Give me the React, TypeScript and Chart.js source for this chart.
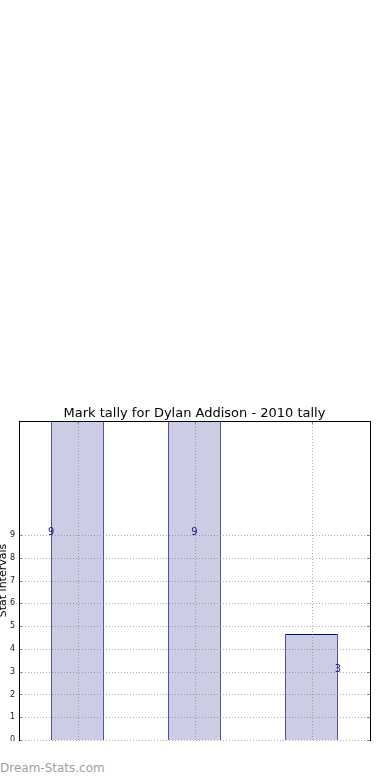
import React, { useEffect, useRef } from "react";
import { Chart, registerables } from "chart.js";

Chart.register(...registerables);

const TITLE = "Mark tally for Dylan Addison - 2010 tally";
const Y_TITLE = "Stat intervals";
const categories = ["A", "B", "C"];
const barValues = [15, 15, 4.65];
const labelValues = [9, 9, 3];
const labelTexts = ["9", "9", "3"];
const labelOffsets = [-0.225, 0, 0.225];
const yTicks = [0, 1, 2, 3, 4, 5, 6, 7, 8, 9];
const Y_MAX = 14;

const FONT = "'DejaVu Sans', sans-serif";

const overlayPlugin = {
  id: "overlay",
  afterDatasetsDraw(chart: any) {
    const { ctx, chartArea: a, scales } = chart;
    const x = scales.x;
    const y = scales.y;
    ctx.save();
    ctx.strokeStyle = "rgba(120,120,120,0.6)";
    ctx.lineWidth = 1;
    ctx.setLineDash([1, 2]);
    yTicks.forEach((v) => {
      const py = Math.round(y.getPixelForValue(v)) + 0.5;
      ctx.beginPath();
      ctx.moveTo(a.left, py);
      ctx.lineTo(a.right, py);
      ctx.stroke();
    });
    categories.forEach((_, i) => {
      const px = Math.round(x.getPixelForValue(i)) + 0.5;
      ctx.beginPath();
      ctx.moveTo(px, a.top);
      ctx.lineTo(px, a.bottom);
      ctx.stroke();
    });
    ctx.setLineDash([]);
    // tick marks inside
    ctx.strokeStyle = "#888";
    yTicks.forEach((v) => {
      const py = Math.round(y.getPixelForValue(v)) + 0.5;
      ctx.beginPath();
      ctx.moveTo(a.left, py);
      ctx.lineTo(a.left + 3, py);
      ctx.moveTo(a.right - 3, py);
      ctx.lineTo(a.right, py);
      ctx.stroke();
    });
    categories.forEach((_, i) => {
      const px = Math.round(x.getPixelForValue(i)) + 0.5;
      ctx.beginPath();
      ctx.moveTo(px, a.top);
      ctx.lineTo(px, a.top + 3);
      ctx.stroke();
    });
    // border
    ctx.strokeStyle = "#000";
    ctx.lineWidth = 1;
    ctx.strokeRect(Math.round(a.left) + 0.5, Math.round(a.top) + 0.5, Math.round(a.right - a.left), Math.round(a.bottom - a.top) + 2);
    // y tick labels
    ctx.fillStyle = "#222";
    ctx.font = `8px ${FONT}`;
    ctx.textAlign = "right";
    ctx.textBaseline = "middle";
    yTicks.forEach((v) => {
      ctx.fillText(String(v), a.left - 4, y.getPixelForValue(v));
    });
    // data labels
    ctx.fillStyle = "#1a1a80";
    ctx.font = `10px ${FONT}`;
    ctx.textAlign = "center";
    ctx.textBaseline = "alphabetic";
    labelValues.forEach((v, i) => {
      const px = x.getPixelForValue(i + labelOffsets[i]);
      const py = y.getPixelForValue(v);
      ctx.fillText(labelTexts[i], px, py);
    });
    // title
    ctx.fillStyle = "#000";
    ctx.font = `13px ${FONT}`;
    ctx.textBaseline = "alphabetic";
    ctx.fillText(TITLE, (a.left + a.right) / 2, a.top - 4);
    // y title
    ctx.save();
    ctx.translate(3, (a.top + a.bottom) / 2);
    ctx.rotate(-Math.PI / 2);
    ctx.font = `11px ${FONT}`;
    ctx.textAlign = "center";
    ctx.textBaseline = "middle";
    ctx.fillText(Y_TITLE, 0, 0);
    ctx.restore();
    ctx.restore();
  },
};

export default function App() {
  const ref = useRef<HTMLCanvasElement>(null);
  useEffect(() => {
    const chart = new Chart(ref.current!, {
      type: "bar",
      data: {
        labels: categories,
        datasets: [
          {
            data: barValues,
            backgroundColor: "rgb(204,204,229)",
            borderColor: "#000080",
            borderWidth: 1,
            barPercentage: 0.45,
            categoryPercentage: 1,
          },
        ],
      },
      options: {
        animation: false,
        responsive: false,
        maintainAspectRatio: false,
        events: [],
        layout: { padding: { left: 0, right: 20, top: 21, bottom: 0 } },
        plugins: { legend: { display: false }, tooltip: { enabled: false }, title: { display: false } },
        scales: {
          x: {
            grid: { display: false },
            border: { display: false },
            ticks: { display: false },
            afterFit: (s: any) => {
              s.height = 20;
            },
          },
          y: {
            min: 0,
            max: Y_MAX,
            grid: { display: false },
            border: { display: false },
            ticks: { display: false },
            afterFit: (s: any) => {
              s.width = 19;
            },
          },
        },
      },
      plugins: [overlayPlugin],
    });
    return () => chart.destroy();
  }, []);
  return (
    <div style={{ position: "absolute", left: 0, top: 0, width: 390, height: 780, background: "#fff", overflow: "hidden" }}>
      <div style={{ position: "absolute", left: 0, top: 0, width: 390, height: 741, overflow: "hidden" }}>
        <canvas ref={ref} width={390} height={360} style={{ position: "absolute", left: 0, top: 400, width: 390, height: 360 }} />
      </div>
      <div
        style={{
          position: "absolute",
          left: 0,
          top: 761,
          fontFamily: FONT,
          fontSize: 12,
          lineHeight: "14px",
          color: "#a0a0a0",
          whiteSpace: "nowrap",
        }}
      >
        Dream-Stats.com
      </div>
    </div>
  );
}
